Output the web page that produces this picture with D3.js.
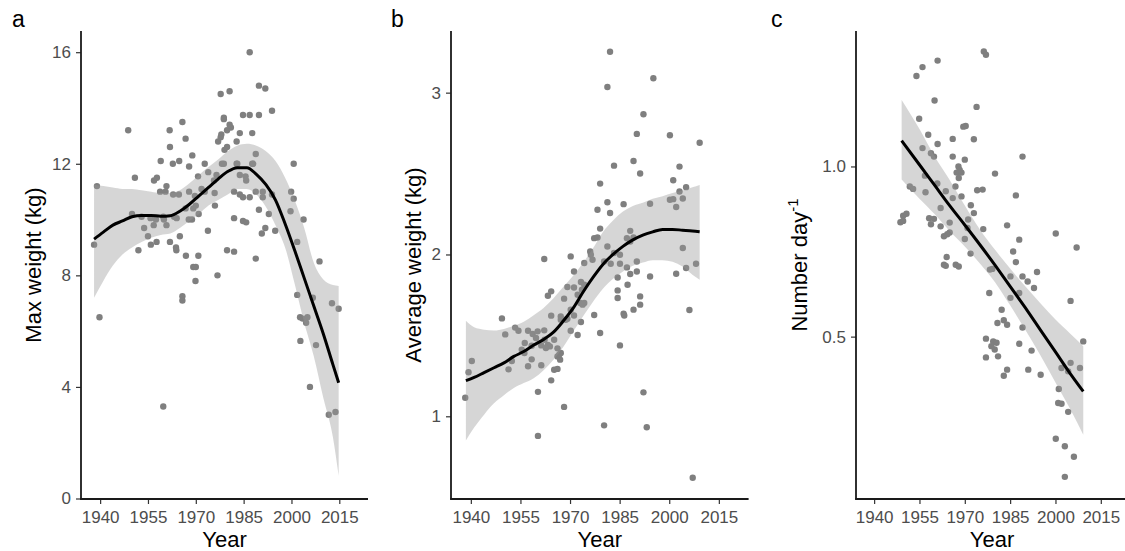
<!DOCTYPE html>
<html lang="en">
<head>
    <meta charset="UTF-8">
    <script src="https://d3js.org/d3.v7.min.js"></script>
    <style>
        body {margin: 0; background-color: #ffffff}
        svg {display: block; font-family: "Liberation Sans", Arial, sans-serif;}
    </style>
</head>
<body>
<svg class="chart" width="1125" height="551"></svg>
<script type="text/javascript">
    // shared x axis
    let year_ticks = [1940, 1955, 1970, 1985, 2000, 2015];

    // panel a: max weight
    let max_weight_points = [
        [1938.1,9.1],[1939.0,11.2],[1939.8,6.5],[1948.8,13.2],[1950.9,11.5],[1950.0,10.2],[1953.0,10.1],[1953.8,9.7],
        [1955.0,9.4],[1952.0,8.9],[1955.9,9.1],[1957.7,9.2],[1956.8,9.8],[1955.8,10.05],[1957.5,10.0],[1956.9,11.4],
        [1957.8,11.5],[1958.8,11.0],[1959.0,12.1],[1960.8,11.2],[1960.5,11.0],[1959.8,10.1],[1960.0,10.0],[1960.8,9.8],
        [1961.8,13.2],[1961.9,12.6],[1962.8,12.0],[1964.8,12.1],[1962.9,10.9],[1964.7,10.9],[1961.9,9.2],[1963.8,9.0],
        [1963.9,8.9],[1965.0,9.4],[1963.2,10.1],[1964.0,10.05],[1965.8,13.5],[1966.8,12.9],[1968.9,12.3],[1967.9,11.9],
        [1967.9,11.0],[1966.8,10.4],[1967.8,10.0],[1968.8,10.0],[1970.9,10.2],[1966.9,8.7],[1970.8,8.7],[1969.2,8.3],
        [1970.0,8.3],[1970.7,11.55],[1972.8,12.0],[1973.9,11.7],[1971.8,11.1],[1972.8,11.0],[1975.9,10.95],[1975.7,11.4],
        [1976.5,11.6],[1973.8,9.6],[1976.8,8.0],[1977.8,14.5],[1980.6,14.6],[1978.8,13.6],[1980.6,13.4],[1981.0,13.3],
        [1977.8,12.95],[1977.0,12.8],[1979.0,12.5],[1979.8,12.6],[1983.8,13.1],[1982.8,12.8],[1978.8,12.0],[1982.8,12.0],
        [1983.8,11.6],[1985.6,11.55],[1985.8,11.4],[1982.0,11.0],[1983.8,10.9],[1984.8,10.8],[1986.9,10.8],[1982.0,10.05],
        [1984.8,9.95],[1985.8,9.9],[1979.8,8.9],[1982.0,8.85],[1986.9,16.0],[1989.8,14.8],[1991.8,14.7],[1984.8,13.75],
        [1986.9,13.75],[1989.8,13.75],[1993.9,13.9],[1987.7,13.1],[1988.8,12.35],[1987.7,12.0],[1988.8,11.0],[1991.0,11.0],
        [1991.0,10.8],[1993.9,10.9],[1989.8,10.35],[1992.9,10.2],[1991.8,9.7],[1990.7,9.5],[1994.9,9.6],[1988.8,8.6],
        [2000.7,12.0],[1999.9,11.0],[2000.7,10.75],[1999.7,10.3],[2003.8,10.0],[2001.8,9.2],[2008.8,8.5],[1959.8,3.3],
        [1965.8,7.25],[1965.8,7.1],[1969.9,7.8],[2001.8,7.3],[2002.7,6.5],[2003.5,6.45],[2005.0,6.5],[2004.6,6.3],
        [2002.8,5.65],[2006.7,7.2],[2007.7,5.5],[2005.8,4.0],[2012.7,7.0],[2014.8,6.8],[2011.7,3.0],[2013.8,3.1],
        [1970.0,10.5],[1969.2,10.4],[1976.0,10.5],[1969.7,10.85],[1978.8,13.65],[1979.8,13.2],[1983.0,12.0],[1988.0,12.0],
        [1978.2,12.0],[1978.0,13.05]
    ];
    let max_weight_years = [1938.1,1941,1944,1947,1950,1953,1956,1959,1962,1965,1968,1971,1974,1977,1980,1983,1986,1989,1992,1995,1998,2001,2004,2007,2010,2013,2014.8];
    let max_weight_fit = [9.3,9.55,9.8,9.95,10.1,10.15,10.15,10.12,10.14,10.3,10.55,10.85,11.15,11.45,11.72,11.86,11.86,11.62,11.25,10.7,9.85,8.9,7.9,6.9,5.9,4.8,4.15];
    let max_weight_upper = [11.25,11.2,11.15,11.1,11.1,11.05,11.0,10.95,10.95,11.05,11.3,11.6,11.88,12.15,12.45,12.65,12.72,12.65,12.45,12.1,11.5,10.7,9.7,8.45,7.85,7.65,7.62];
    let max_weight_lower = [7.2,7.8,8.35,8.75,9.0,9.2,9.35,9.45,9.5,9.7,9.95,10.2,10.5,10.7,10.9,11.1,11.1,10.9,10.45,9.8,9.0,7.7,6.3,5.1,3.6,2.2,0.82];
    let max_weight_ticks = [0, 4, 8, 12, 16];

    // panel b: average weight
    let avg_weight_points = [
        [1982.1,3.253],[1981.3,3.035],[1995.2,3.089],[1992.2,2.867],[1990.2,2.745],[2000.2,2.737],[2009.2,2.69],[1983.3,2.549],
        [1989.2,2.578],[1991.2,2.5],[2003.1,2.543],[1979.1,2.438],[2001.2,2.459],[2003.1,2.389],[2005.1,2.416],[2004.1,2.346],
        [2002.1,2.293],[2000.2,2.338],[2001.2,2.342],[1978.3,2.276],[1981.3,2.323],[1982.1,2.256],[1986.2,2.311],[1994.2,2.313],
        [1979.1,2.16],[1977.3,2.101],[1978.3,2.105],[1981.3,2.049],[1988.2,2.146],[1987.2,2.101],[1989.2,2.105],[1988.2,2.08],
        [1976.1,2.019],[1976.3,1.998],[1970.2,1.988],[1962.2,1.972],[1980.3,1.957],[1982.3,1.943],[1985.1,1.998],[1985.1,1.943],
        [1987.2,1.92],[1990.2,1.957],[2004.1,2.04],[2005.1,1.916],[2008.1,1.943],[1971.2,1.895],[1974.3,1.947],[2002.1,1.881],
        [1994.2,1.864],[1983.3,2.009],[1988.2,1.879],[1990.2,1.895],[1984.4,1.858],[1984.4,1.778],[1987.4,1.813],[1984.4,1.731],
        [1991.2,1.741],[1991.2,1.69],[1986.2,1.634],[1986.4,1.623],[1989.2,1.659],[2006.1,1.657],[1977.3,1.626],[1979.1,1.515],
        [1985.1,1.438],[1992.2,1.148],[1993.2,0.932],[1980.3,0.944],[2007.1,0.62],[1968.2,1.058],[1960.3,0.879],[1960.3,1.151],
        [1938.3,1.115],[1939.3,1.272],[1940.3,1.342],[1949.4,1.605],[1950.4,1.506],[1951.4,1.29],[1952.4,1.342],[1953.4,1.548],
        [1954.4,1.529],[1956.3,1.453],[1955.4,1.412],[1957.3,1.529],[1957.3,1.309],[1958.4,1.352],[1958.7,1.509],[1959.7,1.484],
        [1960.2,1.525],[1961.3,1.315],[1961.3,1.438],[1962.3,1.473],[1962.2,1.531],[1963.3,1.441],[1963.9,1.432],[1964.3,1.222],
        [1964.3,1.622],[1965.2,1.473],[1963.3,1.745],[1964.3,1.772],[1966.2,1.42],[1966.2,1.37],[1967.2,1.391],[1967.0,1.35],
        [1965.2,1.288],[1966.2,1.293],[1967.2,1.617],[1968.2,1.727],[1969.2,1.799],[1969.2,1.603],[1970.2,1.659],[1970.2,1.529],
        [1971.2,1.796],[1971.2,1.623],[1972.3,1.502],[1973.3,1.583],[1972.3,1.751],[1973.1,1.7],[1974.3,1.7],[1973.3,1.83],
        [1974.3,1.813],[1976.8,1.967],[1973.6,1.782],[1973.8,1.69],[1967.2,1.597],[1968.7,1.597],[1956.2,1.391],[1958.4,1.436],
        [1962.7,1.422],[1966.7,1.381]
    ];
    let avg_weight_years = [1938.5,1941,1944,1947,1950,1953,1956,1959,1962,1965,1968,1971,1974,1977,1980,1983,1986,1989,1992,1995,1998,2001,2004,2007,2009.2];
    let avg_weight_fit = [1.22,1.24,1.27,1.3,1.33,1.37,1.4,1.44,1.475,1.52,1.59,1.67,1.77,1.86,1.94,2.0,2.05,2.09,2.12,2.14,2.155,2.155,2.15,2.145,2.14];
    let avg_weight_upper = [1.59,1.55,1.535,1.53,1.54,1.56,1.585,1.625,1.67,1.73,1.8,1.87,1.95,2.04,2.14,2.21,2.265,2.3,2.32,2.345,2.36,2.38,2.395,2.415,2.43];
    let avg_weight_lower = [0.85,0.93,1.01,1.08,1.13,1.175,1.205,1.235,1.285,1.35,1.43,1.525,1.62,1.71,1.79,1.85,1.895,1.93,1.95,1.965,1.965,1.955,1.925,1.875,1.844];
    let avg_weight_ticks = [1, 2, 3];

    // panel c: number per day
    let number_points = [
        [1976.3,1.338],[1977.0,1.328],[1961.0,1.311],[1956.0,1.292],[1954.0,1.266],[1960.0,1.194],[1973.9,1.175],[1954.9,1.14],
        [1969.5,1.117],[1970.3,1.119],[1957.9,1.093],[1966.0,1.081],[1973.0,1.08],[1961.0,1.066],[1956.0,1.054],[1958.8,1.039],
        [1959.8,1.029],[1966.0,1.029],[1970.0,1.02],[1967.9,1.0],[1968.3,0.99],[1967.3,0.982],[1968.9,0.982],[1968.0,0.966],
        [1980.0,0.979],[1956.8,0.973],[1960.9,0.95],[1951.8,0.941],[1952.9,0.934],[1957.0,0.924],[1963.7,0.927],[1966.9,0.941],
        [1966.0,0.907],[1968.9,0.912],[1974.1,0.93],[1975.9,0.932],[1962.0,0.878],[1972.0,0.886],[1973.0,0.863],[1949.6,0.855],
        [1950.7,0.861],[1948.7,0.836],[1949.6,0.84],[1958.2,0.848],[1959.8,0.846],[1958.8,0.83],[1965.0,0.835],[1962.0,0.824],
        [1965.0,0.806],[1964.2,0.801],[1963.1,0.795],[1971.1,0.844],[1970.9,0.819],[1976.1,0.816],[1970.0,0.787],[1971.9,0.744],
        [1964.0,0.734],[1963.1,0.711],[1963.7,0.708],[1967.0,0.711],[1968.0,0.706],[1978.3,0.697],[1979.1,0.699],[1978.1,0.628],
        [1989.1,1.029],[1986.9,0.915],[1984.0,0.827],[1988.0,0.785],[2000.1,0.803],[2007.0,0.762],[1986.0,0.75],[1986.9,0.719],
        [1993.9,0.69],[1989.1,0.677],[1990.8,0.662],[1985.1,0.677],[1992.9,0.643],[1988.0,0.628],[1985.1,0.614],[2005.0,0.605],
        [1982.2,0.579],[1980.8,0.54],[1982.9,0.548],[1984.0,0.535],[1989.1,0.527],[1979.4,0.486],[1980.5,0.482],[1978.8,0.472],
        [1979.9,0.462],[1981.0,0.442],[1977.0,0.494],[1977.0,0.439],[1988.0,0.479],[1992.1,0.459],[1984.0,0.403],[1982.9,0.385],
        [1991.0,0.403],[1995.1,0.388],[2009.2,0.486],[2005.0,0.423],[2002.0,0.408],[2004.2,0.398],[2008.1,0.408],[2001.1,0.346],
        [2000.9,0.305],[2002.0,0.303],[2004.2,0.279],[2000.1,0.2],[2003.1,0.178],[2006.1,0.147],[2003.1,0.088]
    ];
    let number_years = [1949.1,1955,1960,1965,1970,1975,1980,1985,1990,1995,2000,2005,2009.2];
    let number_fit = [1.076,1.005,0.945,0.885,0.828,0.77,0.71,0.648,0.585,0.52,0.455,0.39,0.339];
    let number_upper = [1.195,1.11,1.03,0.96,0.885,0.815,0.755,0.7,0.648,0.598,0.55,0.508,0.472];
    let number_lower = [0.962,0.905,0.86,0.81,0.765,0.715,0.66,0.592,0.52,0.445,0.365,0.285,0.212];
    let number_ticks = [0.5, 1.0];

    let panels = [
        {tag: 'a', tag_x: 12, left: 81, right: 368, y_domain: [0, 16.76], title_x: 41, title: 'Max weight (kg)',
            points: max_weight_points, years: max_weight_years, fit: max_weight_fit,
            upper: max_weight_upper, lower: max_weight_lower, ticks: max_weight_ticks, fmt: d3.format('d')},
        {tag: 'b', tag_x: 391, left: 451, right: 748.6, y_domain: [0.492, 3.381], title_x: 420.5, title: 'Average weight (kg)',
            points: avg_weight_points, years: avg_weight_years, fit: avg_weight_fit,
            upper: avg_weight_upper, lower: avg_weight_lower, ticks: avg_weight_ticks, fmt: d3.format('d')},
        {tag: 'c', tag_x: 771, left: 856, right: 1128, y_domain: [0.0244, 1.398], title_x: 807, title: 'Number day',
            sup: '-1', points: number_points, years: number_years, fit: number_fit,
            upper: number_upper, lower: number_lower, ticks: number_ticks, fmt: d3.format('.1f')}
    ];

    let plot_top = 31;
    let plot_bottom = 499;
    let svg = d3.select('.chart');

    panels.forEach(p => {
        let x = d3.scaleLinear().domain([1934, 2024]).range([p.left, p.right]);
        let y = d3.scaleLinear().domain(p.y_domain).range([plot_bottom - 0.5, plot_top]);
        let g = svg.append('g');

        g.selectAll('circle').data(p.points).enter().append('circle')
            .attr('cx', d => x(d[0]))
            .attr('cy', d => y(d[1]))
            .attr('r', 3.2)
            .attr('fill', '#7f7f7f');

        let band = p.years.map((yr, i) => ({yr: yr, lo: p.lower[i], hi: p.upper[i], fit: p.fit[i]}));

        g.append('path').datum(band)
            .attr('d', d3.area().curve(d3.curveMonotoneX)
                .x(d => x(d.yr)).y0(d => y(d.lo)).y1(d => y(d.hi)))
            .attr('fill', '#999999')
            .attr('fill-opacity', 0.4);

        g.append('path').datum(band)
            .attr('d', d3.line().curve(d3.curveMonotoneX).x(d => x(d.yr)).y(d => y(d.fit)))
            .attr('fill', 'none')
            .attr('stroke', '#000')
            .attr('stroke-width', 3);

        // axes
        let ax = g.append('g').attr('transform', 'translate(0,' + plot_bottom + ')')
            .call(d3.axisBottom(x).tickValues(year_ticks).tickFormat(d3.format('d')).tickSize(5).tickPadding(7).tickSizeOuter(0));
        let ay = g.append('g').attr('transform', 'translate(' + p.left + ',0)')
            .call(d3.axisLeft(y).tickValues(p.ticks).tickFormat(p.fmt).tickSize(5).tickPadding(5).tickSizeOuter(0));
        [ax, ay].forEach(a => {
            a.select('.domain').remove();
            a.selectAll('.tick line').attr('stroke', '#333').attr('stroke-width', 1.2);
            a.selectAll('.tick text').attr('fill', '#4d4d4d').style('font-size', '17px')
                .style('font-family', '"Liberation Sans", Arial, sans-serif');
        });
        g.append('line').attr('x1', p.left).attr('x2', p.left).attr('y1', plot_top).attr('y2', plot_bottom + 0.8)
            .attr('stroke', '#1a1a1a').attr('stroke-width', 1.8);
        g.append('line').attr('x1', p.left - 0.8).attr('x2', p.right).attr('y1', plot_bottom).attr('y2', plot_bottom)
            .attr('stroke', '#1a1a1a').attr('stroke-width', 1.8);

        g.append('text')
            .attr('x', (p.left + p.right) / 2)
            .attr('y', 547)
            .attr('text-anchor', 'middle')
            .style('font-size', '22px')
            .attr('fill', '#000')
            .text('Year');

        let t = g.append('text')
            .attr('transform', 'translate(' + p.title_x + ',265) rotate(-90)')
            .attr('text-anchor', 'middle')
            .style('font-size', '22px')
            .attr('fill', '#000')
            .text(p.title);
        if (p.sup) {
            t.append('tspan').attr('dy', -9).style('font-size', '15px').text(p.sup);
        }

        g.append('text')
            .attr('x', p.tag_x)
            .attr('y', 27)
            .style('font-size', '23px')
            .attr('fill', '#000')
            .text(p.tag);
    });
</script>
</body>
</html>
